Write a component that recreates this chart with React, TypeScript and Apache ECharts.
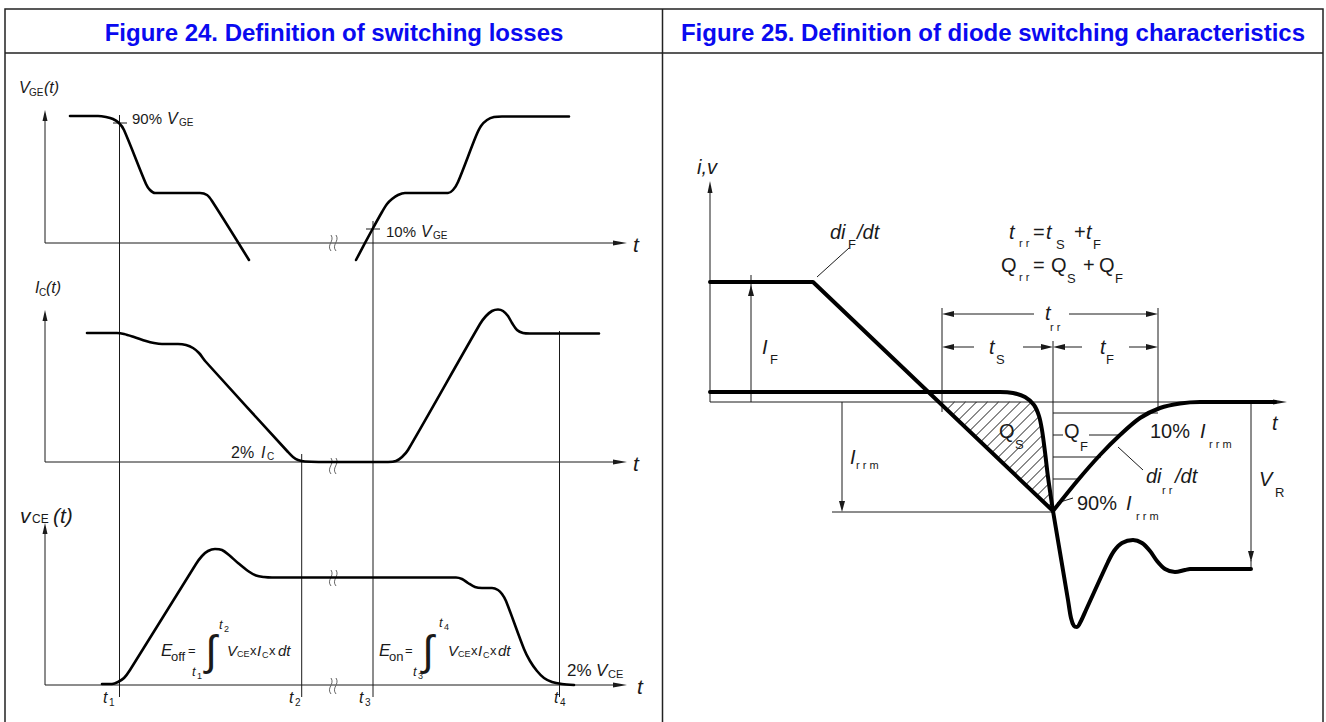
import React, { useEffect, useRef } from "react";
import * as echarts from "echarts";

const W = 1326;
const H = 722;

// ---------- Figure 24 : switching losses (curves, in picture coordinates) ----------
const vgeTurnOff = [
  [70, 116], [98, 116], [106, 117], [113, 119], [119, 123], [124, 130], [146, 184], [150, 190],
  [155, 193], [162, 193], [200, 193], [207, 195], [212, 201], [249, 260],
];
const vgeTurnOn = [
  [356, 260], [372, 230], [382, 212], [387, 204], [392, 199], [398, 195], [405, 193], [448, 193],
  [453, 190], [458, 182], [476, 136], [481, 126], [487, 120], [494, 117], [502, 116.5], [569, 116.5],
];
const icCurve = [
  [87, 333], [117, 333], [124, 334], [134, 337], [146, 341], [154, 343], [162, 344], [178, 344],
  [186, 345], [193, 348], [199, 353], [206, 362], [288, 452], [293, 457], [298, 460], [305, 461.5],
  [339, 462], [388, 462], [396, 461], [402, 457], [408, 450], [480, 324], [486, 316], [492, 311],
  [498, 309.5], [503, 311], [508, 316], [512, 323], [517, 330], [523, 333], [530, 333.5], [599, 333.5],
];
const vceCurve = [
  [102, 684], [112, 684], [118, 682], [124, 678], [130, 670], [196, 564], [202, 556], [208, 551],
  [215, 549], [222, 550], [229, 555], [238, 563], [248, 571], [256, 575.5], [264, 577], [272, 577.5],
  [456, 577.5], [462, 579], [468, 583], [475, 587], [482, 588], [492, 588], [498, 590], [502, 594],
  [506, 601], [524, 649], [530, 661], [537, 671], [544, 678], [552, 682], [562, 684], [574, 685],
];

// ---------- Figure 25 : diode switching ----------
const diodeCurrentFall = [[710, 282], [813, 282], [1053, 511]];
const diodeCurrentRecovery = [
  [1053, 511], [1078, 480], [1100, 455], [1120, 435], [1140, 418], [1160, 408], [1180, 403.5],
  [1200, 402], [1275, 402],
];
const diodeVoltageFall = [
  [710, 392], [1000, 392], [1013, 393], [1025, 397], [1034, 405], [1039, 416], [1042, 430],
  [1045, 452], [1048, 477], [1053, 511],
];
const diodeVoltageRinging = [
  [1053, 511], [1068, 600], [1071, 618], [1074, 626], [1077, 627], [1081, 621], [1086, 610],
  [1108, 562], [1114, 551], [1122, 543], [1133, 540], [1142, 543], [1150, 551], [1157, 561],
  [1165, 569], [1175, 572], [1185, 570], [1190, 569], [1251, 569],
];
// Q_S hatched region outline
const qsRegion = [
  [938, 402], [1032, 402], [1038, 412], [1041, 425], [1043, 440], [1046, 460], [1049, 485], [1053, 511],
];

// thin lines [x1, y1, x2, y2]
const thinSegments = [
  // fig 24 markers
  [119.5, 115, 119.5, 697], [113, 123, 127, 123], [301.7, 454, 301.7, 697],
  [373, 221, 373, 697], [366, 229, 380, 229], [559.5, 331, 559.5, 697],
  // fig 25
  [751, 275, 751, 290], [832, 512, 1053, 512], [942, 308, 942, 412], [1053, 341, 1053, 512],
  [1158, 308, 1158, 410], [1251, 560, 1251, 569], [817, 277, 849, 248], [1118, 447, 1143, 470],
  [1057, 503, 1073, 498], [1053, 413, 1158, 413], [1053, 435, 1063, 435], [1089, 435, 1120, 435],
  [1053, 457, 1101, 457], [1053, 479, 1077, 479],
];
// arrows [x1, y1, x2(tip), y2(tip), headLength, headWidth]
const arrows = [
  [45, 243, 45, 110, 11, 5], [45, 243, 627, 243, 14, 5],
  [45, 462, 45, 310, 11, 5], [45, 462, 627, 462, 14, 5],
  [45, 685, 45, 523, 11, 5], [45, 685, 627, 685, 14, 5],
  [710, 402, 710, 181, 12, 5], [710, 402, 1287, 402, 14, 5],
  [751, 402, 751, 285, 11, 6], [842, 402, 842, 512, 11, 6], [1251, 402, 1251, 562, 11, 6],
  [1034, 314, 942, 314, 12, 6], [1069, 314, 1158, 314, 12, 6],
  [974, 347, 942, 347, 12, 6], [1023, 347, 1053, 347, 12, 6],
  [1082, 347, 1053, 347, 12, 6], [1129, 347, 1158, 347, 12, 6],
];
// axis break marks [x, y]
const breakMarks = [[333, 243], [333, 466], [333, 578], [333, 686]];

const FF = "'Liberation Sans', Arial, Helvetica, sans-serif";
const INK = "#1a1a1a";

function hatchSegments(poly: number[][], step: number) {
  const cs = poly.map((p) => p[0] + p[1]);
  const lo = Math.min(...cs);
  const hi = Math.max(...cs);
  const segs: number[][] = [];
  for (let c = lo + step / 2; c < hi; c += step) {
    const pts: number[][] = [];
    for (let i = 0; i < poly.length; i++) {
      const a = poly[i];
      const b = poly[(i + 1) % poly.length];
      const ca = a[0] + a[1];
      const cb = b[0] + b[1];
      if ((ca - c) * (cb - c) < 0) {
        const t = (c - ca) / (cb - ca);
        pts.push([a[0] + t * (b[0] - a[0]), a[1] + t * (b[1] - a[1])]);
      }
    }
    pts.sort((p, q) => p[0] - q[0]);
    for (let k = 0; k + 1 < pts.length; k += 2) segs.push([pts[k][0], pts[k][1], pts[k + 1][0], pts[k + 1][1]]);
  }
  return segs;
}

function T(x: number, y: number, text: string, size: number, italic = false, color = INK, extra: any = {}) {
  return {
    type: "text",
    x,
    y,
    silent: true,
    style: {
      text,
      fontSize: size,
      fontFamily: FF,
      fontStyle: italic ? "italic" : "normal",
      fill: color,
      align: "left",
      verticalAlign: "middle",
      ...extra,
    },
  };
}

function lineRender(params: any, api: any) {
  const a = api.coord([api.value(0), api.value(1)]);
  const b = api.coord([api.value(2), api.value(3)]);
  return {
    type: "line",
    shape: { x1: a[0], y1: a[1], x2: b[0], y2: b[1] },
    style: { stroke: INK, lineWidth: 1 },
  };
}

function arrowRender(params: any, api: any) {
  const a = api.coord([api.value(0), api.value(1)]);
  const b = api.coord([api.value(2), api.value(3)]);
  const len = api.value(4);
  const wid = api.value(5);
  const dx = b[0] - a[0];
  const dy = b[1] - a[1];
  const L = Math.hypot(dx, dy) || 1;
  const ux = dx / L;
  const uy = dy / L;
  const bx = b[0] - ux * len;
  const by = b[1] - uy * len;
  const px = (-uy * wid) / 2;
  const py = (ux * wid) / 2;
  return {
    type: "group",
    children: [
      { type: "line", shape: { x1: a[0], y1: a[1], x2: bx + ux * 2, y2: by + uy * 2 }, style: { stroke: INK, lineWidth: 1 } },
      { type: "polygon", shape: { points: [[b[0], b[1]], [bx + px, by + py], [bx - px, by - py]] }, style: { fill: INK } },
    ],
  };
}

function breakRender(params: any, api: any) {
  const p = api.coord([api.value(0), api.value(1)]);
  const mk = (ox: number) => ({
    type: "bezierCurve",
    shape: {
      x1: p[0] + ox + 1, y1: p[1] - 8,
      cpx1: p[0] + ox + 5, cpy1: p[1] - 2,
      cpx2: p[0] + ox - 4, cpy2: p[1] + 2,
      x2: p[0] + ox + 1, y2: p[1] + 8,
    },
    style: { stroke: "#666", lineWidth: 1, fill: null },
  });
  return { type: "group", children: [mk(-3), mk(2)] };
}

function thick(data: number[][], width: number, smooth: number | boolean) {
  return {
    type: "line",
    data,
    symbol: "none",
    silent: true,
    smooth,
    lineStyle: { color: "#000", width, cap: "round", join: "round" },
    z: 5,
  };
}

function buildGraphic() {
  const g: any[] = [];
  // frame
  g.push({ type: "rect", silent: true, shape: { x: 5, y: 9, width: 1318, height: 730 }, style: { fill: "none", stroke: "#222", lineWidth: 1.5 } });
  g.push({ type: "line", silent: true, shape: { x1: 5, y1: 53, x2: 1323, y2: 53 }, style: { stroke: "#222", lineWidth: 1.5 } });
  g.push({ type: "line", silent: true, shape: { x1: 662.5, y1: 9, x2: 662.5, y2: 722 }, style: { stroke: "#222", lineWidth: 1.5 } });
  // titles
  const titleStyle = { fontWeight: "bold", align: "center" };
  g.push(T(334, 32, "Figure 24. Definition of switching losses", 24, false, "#0a0af0", titleStyle));
  g.push(T(993, 32, "Figure 25. Definition of diode switching characteristics", 24, false, "#0a0af0", titleStyle));

  // ---- fig 24 labels
  g.push(T(19, 87, "V", 16, true), T(29, 92, "GE", 10), T(44, 87, "(t)", 16, true));
  g.push(T(35, 287, "I", 16, true), T(39, 292, "C", 10), T(46, 287, "(t)", 16, true));
  g.push(T(20, 515, "v", 21, true), T(32, 519, "CE", 12), T(53, 515, "(t)", 21, true));
  g.push(T(132, 118, "90%", 15), T(167, 118, "V", 16, true), T(179, 122, "GE", 10));
  g.push(T(386, 231, "10%", 15), T(421, 231, "V", 16, true), T(433, 235, "GE", 10));
  g.push(T(231, 452, "2%", 16), T(261, 452, "I", 16, true), T(267, 456, "C", 10));
  g.push(T(567, 670, "2%", 17), T(596, 670, "V", 17, true), T(608, 674, "CE", 11));
  g.push(T(633, 244, "t", 21, true), T(633, 463, "t", 21, true), T(637, 686, "t", 21, true));
  g.push(T(103, 697, "t", 16, true), T(109, 702, "1", 10));
  g.push(T(289, 697, "t", 16, true), T(295, 702, "2", 10));
  g.push(T(359, 697, "t", 16, true), T(365, 702, "3", 10));
  g.push(T(554, 697, "t", 16, true), T(560, 702, "4", 10));
  // E_off formula
  g.push(T(161, 650, "E", 17, true), T(171, 656, "off", 13), T(188, 650, "=", 13));
  g.push(T(211, 650, "\u222B", 42, false, INK, { align: "center" }));
  g.push(T(219, 624, "t", 13, true), T(224, 629, "2", 9));
  g.push(T(192, 671, "t", 13, true), T(197, 676, "1", 9));
  g.push(T(227, 650, "V", 15, true), T(237, 654, "CE", 9), T(250, 650, "x", 13), T(257, 650, "I", 15, true), T(262, 655, "C", 9), T(269, 650, "x", 13), T(278, 650, "dt", 15, true));
  // E_on formula
  g.push(T(379, 650, "E", 17, true), T(389, 656, "on", 13), T(405, 650, "=", 13));
  g.push(T(428, 650, "\u222B", 42, false, INK, { align: "center" }));
  g.push(T(439, 622, "t", 13, true), T(444, 627, "4", 9));
  g.push(T(413, 671, "t", 13, true), T(418, 676, "3", 9));
  g.push(T(448, 650, "V", 15, true), T(458, 654, "CE", 9), T(471, 650, "x", 13), T(478, 650, "I", 15, true), T(483, 655, "C", 9), T(490, 650, "x", 13), T(498, 650, "dt", 15, true));

  // ---- fig 25 labels
  g.push(T(697, 167, "i,v", 20, true));
  g.push(T(830, 232, "di", 20, true), T(848, 244, "F", 13), T(857, 232, "/dt", 20, true));
  g.push(T(1009, 232, "t", 20, true), T(1019, 243, "r r", 11), T(1033, 232, "=", 20), T(1046, 232, "t", 20, true), T(1056, 244, "S", 13), T(1074, 232, "+", 20), T(1086, 232, "t", 20, true), T(1093, 244, "F", 13));
  g.push(T(1001, 265, "Q", 20), T(1019, 277, "r r", 11), T(1033, 265, "=", 20), T(1051, 265, "Q", 20), T(1067, 278, "S", 13), T(1083, 265, "+", 20), T(1099, 265, "Q", 20), T(1115, 278, "F", 13));
  g.push(T(1045, 313, "t", 20, true), T(1050, 327, "r r", 11));
  g.push(T(989, 347, "t", 20, true), T(996, 359, "S", 13));
  g.push(T(1100, 347, "t", 20, true), T(1106, 359, "F", 13));
  g.push(T(762, 347, "I", 20, true), T(770, 359, "F", 13));
  g.push(T(850, 457, "I", 20, true), T(856, 465, "r r m", 11));
  g.push(T(999, 431, "Q", 20), T(1015, 444, "S", 13));
  g.push(T(1064, 431, "Q", 20), T(1080, 446, "F", 13));
  g.push(T(1150, 431, "10%", 20), T(1200, 431, "I", 20, true), T(1209, 444, "r r m", 11));
  g.push(T(1146, 476, "di", 20, true), T(1162, 490, "r r", 11), T(1175, 476, "/dt", 20, true));
  g.push(T(1077, 503, "90%", 20), T(1126, 503, "I", 20, true), T(1136, 516, "r r m", 11));
  g.push(T(1259, 479, "V", 20, true), T(1275, 492, "R", 13));
  g.push(T(1272, 423, "t", 20, true));
  return g;
}

export default function App() {
  const ref = useRef<HTMLDivElement>(null);
  useEffect(() => {
    document.body.style.margin = "0";
    const chart = echarts.init(ref.current as HTMLDivElement, null, { renderer: "svg" });
    const hatch = hatchSegments(qsRegion, 11);
    const option: any = {
      animation: false,
      backgroundColor: "#fff",
      grid: { left: 0, right: 0, top: 0, bottom: 0 },
      xAxis: { type: "value", min: 0, max: W, show: false },
      yAxis: { type: "value", min: 0, max: H, inverse: true, show: false },
      series: [
        { type: "custom", silent: true, clip: false, renderItem: lineRender, data: thinSegments, encode: { x: [0, 2], y: [1, 3] }, z: 2 },
        { type: "custom", silent: true, clip: false, renderItem: lineRender, data: hatch, encode: { x: [0, 2], y: [1, 3] }, z: 2 },
        { type: "custom", silent: true, clip: false, renderItem: arrowRender, data: arrows, encode: { x: [0, 2], y: [1, 3] }, z: 3 },
        { type: "custom", silent: true, clip: false, renderItem: breakRender, data: breakMarks, encode: { x: 0, y: 1 }, z: 3 },
        thick(vgeTurnOff, 2.6, 0.3),
        thick(vgeTurnOn, 2.6, 0.3),
        thick(icCurve, 2.6, 0.3),
        thick(vceCurve, 2.6, 0.3),
        thick(diodeCurrentFall, 4, false),
        thick(diodeCurrentRecovery, 4, 0.3),
        thick(diodeVoltageFall, 4, 0.3),
        thick(diodeVoltageRinging, 4, 0.3),
      ],
      graphic: buildGraphic(),
    };
    chart.setOption(option);
    return () => chart.dispose();
  }, []);
  return <div ref={ref} style={{ width: W, height: H, background: "#fff" }} />;
}
